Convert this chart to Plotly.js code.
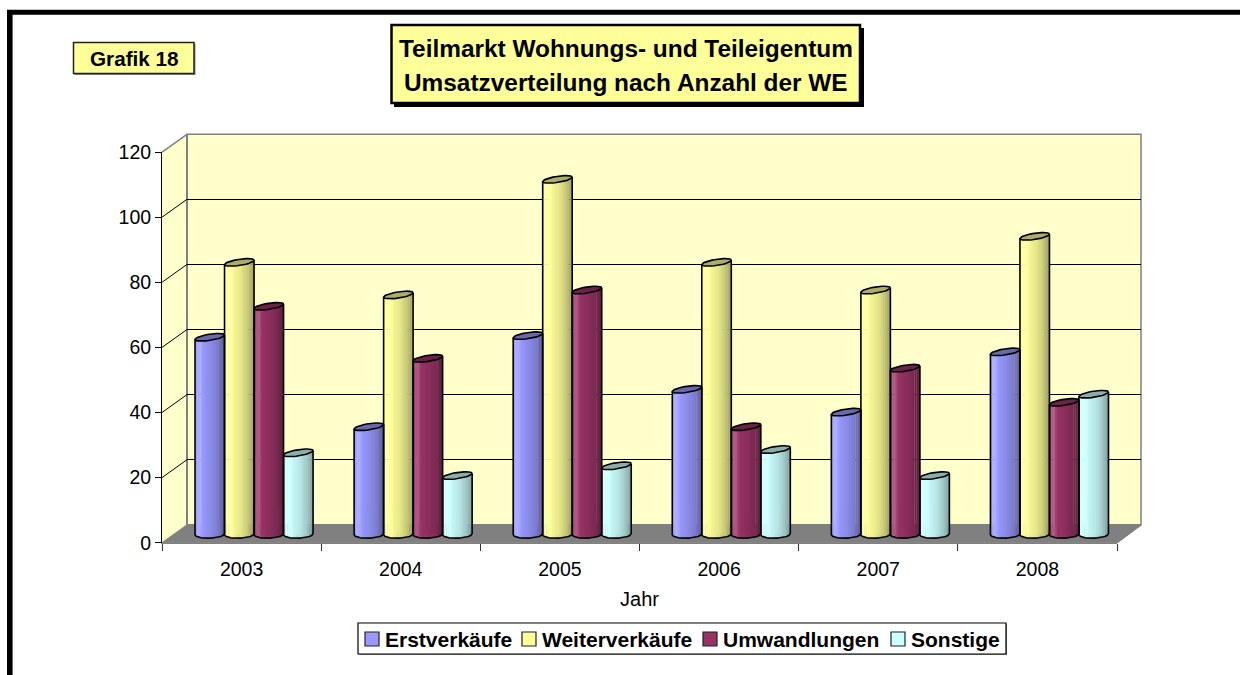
<!DOCTYPE html>
<html><head><meta charset="utf-8">
<script src="https://cdn.plot.ly/plotly-3.0.1.min.js"></script>
<style>html,body{margin:0;padding:0;background:#fff}#c{width:1240px;height:675px}</style>
</head><body><div id="c"></div>
<script>
// ---- data ----
const years = [2003, 2004, 2005, 2006, 2007, 2008];
const erstverkaeufe   = [60.5, 33, 61, 44.5, 37.5, 56];
const weiterverkaeufe = [83.5, 73.5, 109, 83.5, 75, 91.5];
const umwandlungen    = [70, 54, 75, 33, 51, 40.5];
const sonstige        = [25, 18, 21, 26, 18, 43];
const seriesNames  = ['Erstverkäufe', 'Weiterverkäufe', 'Umwandlungen', 'Sonstige'];
const seriesColors = [[153,153,255], [255,255,153], [153,51,102], [204,255,255]];
const seriesValues = [erstverkaeufe, weiterverkaeufe, umwandlungen, sonstige];
const yTicks = [0, 20, 40, 60, 80, 100, 120];

// ---- layout helpers (pixels to paper, margins are zero) ----
const W = 1240, H = 675;
const px = x => x / W, py = y => 1 - y / H;
const FONT = 'Liberation Sans, Arial, sans-serif';

const front = {l:162, r:1117, t:152.1, b:542.7};
const back  = {l:187, r:1141, t:134.3, b:524.8};
const unit = (front.b - front.t) / 120;           // px per value unit
const mid  = {l:174.5, r:1129, zero:534.2};
const below = 5;                                  // room below zero for the curved bases

const barW = 0.1855;                              // cylinder width in category units
const nStrips = 16;
const aHalf = barW / 2;
const topB = 3.1, topS = 2.2, baseB = 4, baseS = 0.6;   // ellipse half-height and tilt in px

function shade(rgb, t) {
  // t: 0 (left edge) .. 1 (right edge) of the cylinder
  const stops = [[0,0.97],[0.12,1.16],[0.3,0.97],[0.55,0.9],[0.8,0.78],[1,0.6]];
  let m = 1;
  for (let i = 0; i < stops.length - 1; i++) {
    if (t >= stops[i][0] && t <= stops[i+1][0]) {
      const f = (t - stops[i][0]) / (stops[i+1][0] - stops[i][0]);
      m = stops[i][1] + f * (stops[i+1][1] - stops[i][1]);
    }
  }
  const c = rgb.map(v => m <= 1 ? v * m : v + (255 - v) * (m - 1) * 1.5);
  return 'rgb(' + c.map(v => Math.round(Math.min(255, v))).join(',') + ')';
}
const dark = rgb => 'rgb(' + rgb.map(v => Math.round(v * 0.68)).join(',') + ')';

const traces = [];
// invisible carrier for the category axis on the front plane
traces.push({type:'scatter', mode:'none', x:years.map(String), y:years.map(() => 0),
  xaxis:'x2', yaxis:'y2', hoverinfo:'skip', showlegend:false});
// back wall grid carrier
traces.push({type:'scatter', mode:'none', x:[0,1], y:[0,120], xaxis:'x', yaxis:'y',
  hoverinfo:'skip', showlegend:false});

seriesValues.forEach((vals, k) => {
  const c0 = (k - 1.5) * barW;
  const rgb = seriesColors[k];
  // the value bar itself
  traces.push({type:'bar', name:seriesNames[k], x:years, y:vals, width:barW * 0.6,
    offset:c0 - barW * 0.3, marker:{color:'rgb(' + rgb.join(',') + ')', line:{width:0}},
    xaxis:'x3', yaxis:'y3', showlegend:false});
  // shaded strips that give the round look, same values
  for (let j = 0; j < nStrips; j++) {
    const t = (j + 0.5) / nStrips, u = 2 * t - 1;
    const down = baseB * Math.sqrt(1 - u * u) - baseS * u;
    const baseV = -down / unit;
    traces.push({type:'bar', x:years,
      y:vals.map(v => v + topS * u / unit - baseV),
      base:years.map(() => baseV),
      width:barW / nStrips * 1.15, offset:c0 - barW / 2 + j * barW / nStrips,
      marker:{color:shade(rgb, t), line:{width:0}},
      xaxis:'x3', yaxis:'y3', hoverinfo:'skip', showlegend:false});
  }
});
// outlines and top ellipses
seriesValues.forEach((vals, k) => {
  const c0 = (k - 1.5) * barW;
  const sx = [], sy = [], ex = [], ey = [];
  vals.forEach((v, i) => {
    const cx = years[i] + c0;
    sx.push(cx - aHalf); sy.push(v - topS / unit);
    for (let n = 0; n <= 24; n++) {
      const u = -1 + n / 12;
      sx.push(cx + aHalf * u);
      sy.push(-(baseB * Math.sqrt(Math.max(0, 1 - u * u)) - baseS * u) / unit);
    }
    sx.push(cx + aHalf); sy.push(v + topS / unit);
    sx.push(null); sy.push(null);
    for (let n = 0; n <= 40; n++) {
      const a = n / 40 * 2 * Math.PI;
      ex.push(cx + aHalf * Math.cos(a));
      ey.push(v + (topB * Math.sin(a) + topS * Math.cos(a)) / unit);
    }
    ex.push(null); ey.push(null);
  });
  traces.push({type:'scatter', mode:'lines', x:sx, y:sy, line:{color:'#000', width:1.6},
    xaxis:'x3', yaxis:'y3', hoverinfo:'skip', showlegend:false});
  traces.push({type:'scatter', mode:'lines', x:ex, y:ey, fill:'toself', fillcolor:dark(seriesColors[k]),
    line:{color:'#000', width:1.6}, xaxis:'x3', yaxis:'y3', hoverinfo:'skip', showlegend:false});
});

// ---- furniture ----
const GREY = '#808080', WALL = '#FFFFCC';
const poly = (pts, fill, line, lw, layer) => ({type:'path', xref:'paper', yref:'paper', layer:layer || 'below',
  path:'M' + pts.map(p => px(p[0]) + ',' + py(p[1])).join('L') + 'Z',
  fillcolor:fill, line:{color:line, width:lw}});
const rect = (x0, y0, x1, y1, fill, line, lw, layer) => ({type:'rect', xref:'paper', yref:'paper', layer:layer || 'above',
  x0:px(x0), x1:px(x1), y0:py(y1), y1:py(y0), fillcolor:fill, line:{color:line, width:lw}});
const seg = (x0, y0, x1, y1, c, lw, layer) => ({type:'line', xref:'paper', yref:'paper', layer:layer || 'below',
  x0:px(x0), x1:px(x1), y0:py(y0), y1:py(y1), line:{color:c, width:lw}});

const shapes = [
  // outer frame
  seg(9.8, 10, 9.8, 675, '#000', 5.6, 'above'),
  seg(7, 12.3, 1240, 12.3, '#000', 5, 'above'),
  // walls and floor
  rect(back.l, back.t, back.r, back.b, WALL, GREY, 1.5, 'below'),
  poly([[front.l,front.t],[back.l,back.t],[back.l,back.b],[front.l,front.b]], WALL, 'rgba(0,0,0,0)', 0),
  poly([[front.l,front.b],[back.l,back.b],[back.r,back.b],[front.r,front.b]], GREY, GREY, 1),
  seg(front.l, front.t, back.l, back.t, GREY, 1.5),
  seg(back.l, back.t, back.l, back.b, GREY, 2),
  seg(front.r, front.b, back.r, back.b, GREY, 1.5),
  // title box with shadow
  rect(394, 28, 864, 107, '#000', '#000', 0),
  rect(391.5, 25, 860, 103, '#FFFF99', '#000', 2.5),
  // small label box
  rect(74.5, 43.5, 195.5, 75, '#888', '#888', 0),
  rect(73.5, 42.5, 194, 73.5, '#FFFF99', '#222', 1.5),
  // legend box
  rect(359, 624, 1007, 655, '#888', '#888', 0),
  rect(358, 623, 1006, 654, '#fff', '#000', 1.2)
];
// diagonal grid lines on the side wall
yTicks.filter(v => v > 0 && v < 120).forEach(v => {
  const yf = front.b - v * unit;
  shapes.push(seg(front.l, yf, back.l, yf - (front.b - back.b), '#000', 1));
});

// hand-placed legend, matching the compact original spacing
const legendX = [365, 522, 703, 891];
const annotations = [
  {xref:'paper', yref:'paper', x:px(134), y:py(58), text:'<b>Grafik 18</b>', showarrow:false,
   font:{family:FONT, size:20.7, color:'#000'}, xanchor:'center', yanchor:'middle'},
  {xref:'paper', yref:'paper', x:px(626), y:py(48), text:'<b>Teilmarkt Wohnungs- und Teileigentum</b>',
   showarrow:false, font:{family:FONT, size:24.4, color:'#000'}, xanchor:'center', yanchor:'middle'},
  {xref:'paper', yref:'paper', x:px(626), y:py(82.5), text:'<b>Umsatzverteilung nach Anzahl der WE</b>',
   showarrow:false, font:{family:FONT, size:24.4, color:'#000'}, xanchor:'center', yanchor:'middle'}
];
seriesNames.forEach((n, k) => {
  shapes.push(rect(legendX[k], 632, legendX[k] + 14, 646, 'rgb(' + seriesColors[k].join(',') + ')', '#222', 1.2));
  annotations.push({xref:'paper', yref:'paper', x:px(legendX[k] + 18), y:py(639), text:'<b>' + n + '</b>', showarrow:false,
    font:{family:FONT, size:21, color:'#000'}, xanchor:'left', yanchor:'middle'});
});

const hidden = {visible:false, showgrid:false, zeroline:false, fixedrange:true};
const layout = {
  width:W, height:H, margin:{l:0, r:0, t:0, b:0, pad:0}, paper_bgcolor:'#fff', plot_bgcolor:'rgba(0,0,0,0)',
  showlegend:false, barmode:'overlay', font:{family:FONT, size:20, color:'#000'},
  // back wall (grid only)
  xaxis:Object.assign({}, hidden, {domain:[px(back.l), px(back.r)], range:[0,1], anchor:'y'}),
  yaxis:{domain:[py(back.b), py(back.t)], range:[0,120], tickvals:yTicks, showgrid:true, gridcolor:'#000', gridwidth:1,
    zeroline:false, showticklabels:false, ticks:'', showline:false, anchor:'x', fixedrange:true},
  // front plane (visible axes)
  xaxis2:{domain:[px(front.l), px(front.r)], type:'category', categoryorder:'array', categoryarray:years.map(String),
    range:[-0.5,5.5], tickson:'boundaries', ticks:'outside', ticklen:7, tickwidth:1, tickcolor:'#333',
    showline:true, linecolor:GREY, linewidth:1.5, showgrid:false, zeroline:false, anchor:'y2', fixedrange:true,
    ticklabelstandoff:8,
    tickfont:{family:FONT, size:19.5, color:'#000'}, title:{text:'Jahr', font:{family:FONT, size:20, color:'#000'}, standoff:13}},
  yaxis2:{domain:[py(front.b), py(front.t)], range:[0,120], tickvals:yTicks, ticks:'outside', ticklen:6, tickwidth:1,
    tickcolor:'#000', showline:true, linecolor:'#000', linewidth:1, showgrid:false, zeroline:false, anchor:'x2', fixedrange:true,
    tickfont:{family:FONT, size:19.5, color:'#000'}},
  // cylinder plane, halfway through the depth
  xaxis3:Object.assign({}, hidden, {domain:[px(mid.l), px(mid.r)], range:[years[0]-0.5, years[5]+0.5], anchor:'y3'}),
  yaxis3:Object.assign({}, hidden, {domain:[py(mid.zero + below*unit), py(mid.zero - 120*unit)], range:[-below,120], anchor:'x3'}),
  shapes:shapes, annotations:annotations
};
Plotly.newPlot('c', traces, layout, {displayModeBar:false, staticPlot:true});
</script></body></html>
